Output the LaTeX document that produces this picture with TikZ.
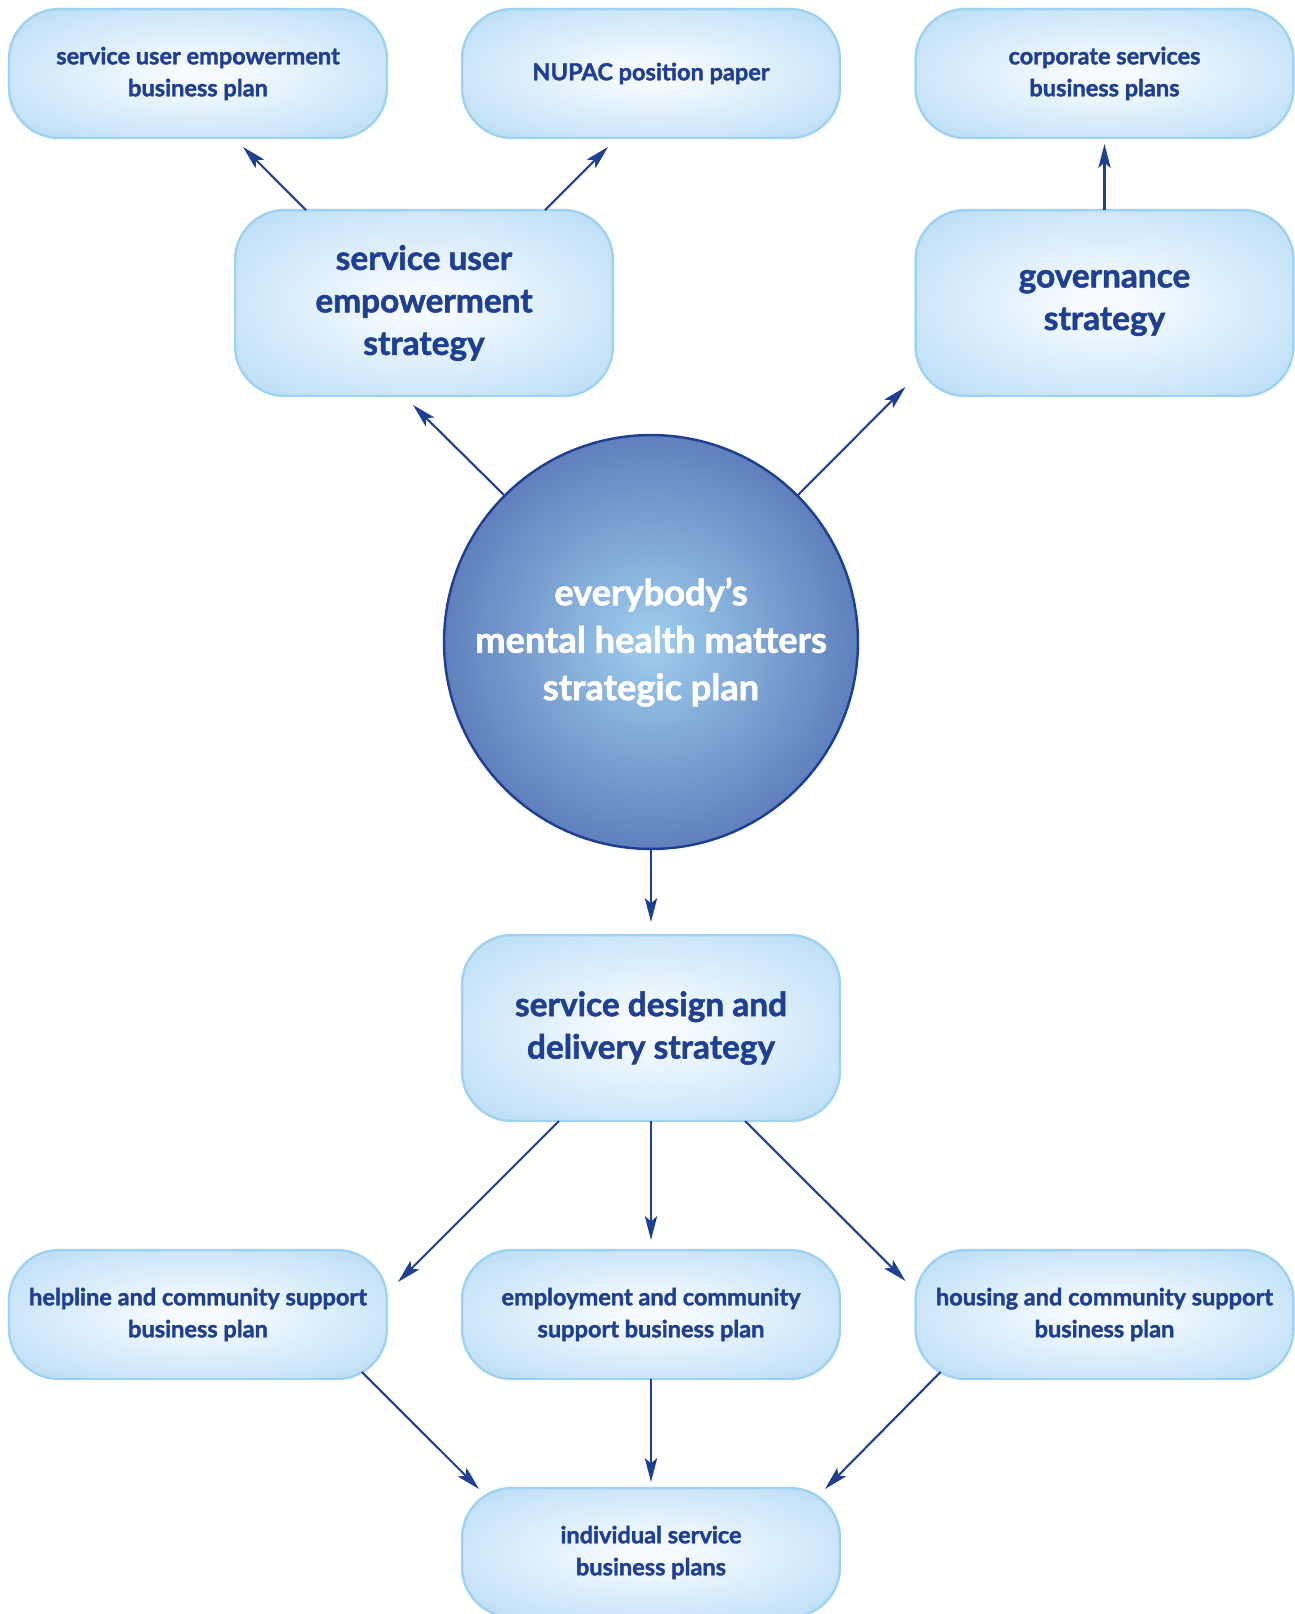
\documentclass[tikz,border=0pt]{standalone}
\usepackage{fontspec}
\setmainfont{Lato}[BoldFeatures={FakeBold=1.6}]
\usetikzlibrary{arrows.meta}

\definecolor{inkblue}{RGB}{31,63,147}
\definecolor{boxrim}{RGB}{160,210,242}
\definecolor{boxcore}{RGB}{246,251,255}
\definecolor{boxmid}{RGB}{198,227,248}
\definecolor{boxedge}{RGB}{166,213,243}
\definecolor{ballcore}{RGB}{160,206,238}
\definecolor{ballmid}{RGB}{72,100,170}
\definecolor{ballrim}{RGB}{58,86,160}

\pgfdeclareradialshading{planglow}{\pgfpoint{0bp}{0bp}}{color(0bp)=(boxcore); color(4bp)=(boxcore); color(28bp)=(boxmid); color(42bp)=(boxedge); color(75bp)=(boxedge)}
\pgfdeclareradialshading{hubglow}{\pgfpoint{0bp}{0bp}}{color(0bp)=(ballcore); color(34bp)=(ballmid); color(50bp)=(ballrim); color(75bp)=(ballrim)}

\begin{document}
\begin{tikzpicture}[x=0.02cm, y=-0.02cm,
    plan/.style={draw=boxrim, line width=1.4pt, rounded corners=1cm,
      shading=planglow, text=inkblue, align=center, inner sep=0pt,
      outer sep=0pt, minimum width=7.56cm, minimum height=2.58cm,
      font=\bfseries\fontsize{13.4}{18.2}\selectfont},
    strategy/.style={plan, minimum height=3.72cm,
      font=\bfseries\fontsize{19}{24.2}\selectfont},
    hub/.style={circle, draw=inkblue, line width=1.4pt, shading=hubglow,
      text=white, align=center, inner sep=0pt, outer sep=0pt,
      minimum size=8.28cm, font=\bfseries\fontsize{20.6}{27}\selectfont},
    link/.style={draw=inkblue, line width=1.2pt,
      -{Stealth[length=13.6pt, width=7pt, inset=3pt]}}]
    \useasboundingbox (0,0) rectangle (1295,1614);
    \clip (0,0) rectangle (1295,1614);

    \node[plan] (suebp) at (198,73.5) {service user empowerment\\business plan};
    \node[plan] (nupac) at (651,73.5) {NUPAC position paper};
    \node[plan] (corp) at (1104.5,73.5) {corporate services\\business plans};

    \node[strategy] (sues) at (424,303) {service user\\empowerment\\strategy};
    \node[strategy] (gov) at (1104.5,303) {governance\\strategy};

    \node[hub] (emhm) at (651,642) {everybody’s\\mental health matters\\strategic plan};

    \node[strategy] (sdd) at (651,1028) {service design and\\delivery strategy};

    \node[plan] (help) at (198,1314.5) {helpline and community support\\business plan};
    \node[plan] (emp) at (651,1314.5) {employment and community\\support business plan};
    \node[plan] (house) at (1104.5,1314.5) {housing and community support\\business plan};

    \node[plan] (isbp) at (651,1552.5) {individual service\\business plans};

    \draw[link] ([shift={(-118,0)}]sues.north) -- ([shift={(45,9)}]suebp.south);
    \draw[link] ([shift={(121,0)}]sues.north) -- ([shift={(-43,9)}]nupac.south);
    \draw[link] (gov.north) -- ([shift={(0,6)}]corp.south);

    \draw[link] (emhm.north west) -- ([shift={(-11,9)}]sues.south);
    \draw[link] (emhm.north east) -- ([shift={(-10,-9)}]gov.south west);
    \draw[link] (emhm.south) -- ([shift={(0,-13)}]sdd.north);

    \draw[link] ([shift={(-92,0)}]sdd.south) -- ([shift={(11,32)}]help.north east);
    \draw[link] (sdd.south) -- ([shift={(0,-10)}]emp.north);
    \draw[link] ([shift={(94,0)}]sdd.south) -- ([shift={(-10,31)}]house.north west);

    \draw[link] ([shift={(-25,-7)}]help.south east) -- ([shift={(17,1)}]isbp.north west);
    \draw[link] (emp.south) -- ([shift={(0,-6)}]isbp.north);
    \draw[link] ([shift={(25,-7)}]house.south west) -- ([shift={(-15,1)}]isbp.north east);
\end{tikzpicture}
\end{document}
